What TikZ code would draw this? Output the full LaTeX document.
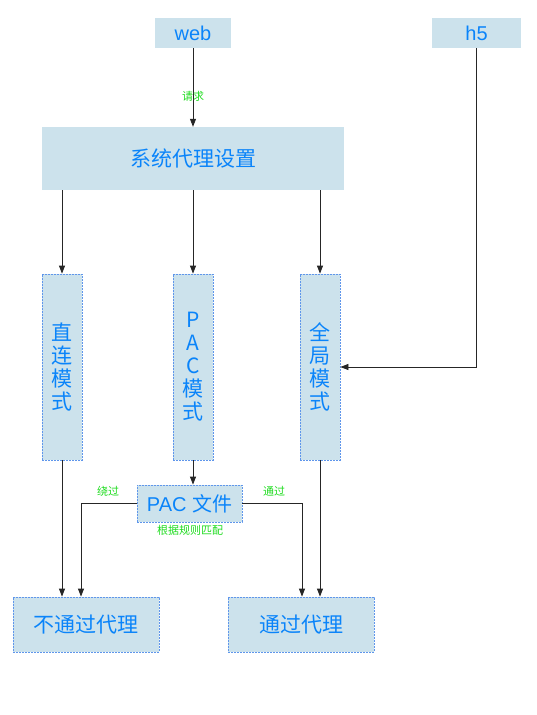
\documentclass[tikz,border=0pt]{standalone}
\usepackage{fontspec}
\setmainfont{Liberation Sans}
\newfontfamily\cjk{Noto Sans CJK SC}
\usetikzlibrary{arrows.meta}
\definecolor{boxfill}{RGB}{204,226,236}
\definecolor{txtblue}{RGB}{10,132,250}
\definecolor{dashblue}{RGB}{95,150,235}
\definecolor{lblgreen}{RGB}{30,220,30}
\tikzset{
  box/.style={fill=boxfill, text=txtblue, inner sep=0pt, anchor=center, align=center},
  dbox/.style={box, draw=dashblue, dash pattern=on 2pt off 1pt, line width=0.8pt},
  arr/.style={draw=black!85, line width=0.8pt, -{Triangle[width=6pt,length=8pt]}},
  lbl/.style={text=lblgreen, font=\cjk\fontsize{11}{13}\selectfont, inner sep=0pt},
  col/.style={dbox, minimum width=40pt, minimum height=186pt, font=\cjk\fontsize{21}{23}\selectfont},
}
\begin{document}
\begin{tikzpicture}[x=1pt,y=-1pt]
\useasboundingbox[fill=white] (0,0) rectangle (537,715);
\node[box, minimum width=76pt, minimum height=30pt, font=\fontsize{20}{24}\selectfont] (web) at (193,33) {web};
\node[box, minimum width=89pt, minimum height=30pt, font=\fontsize{20}{24}\selectfont] (h5) at (476.5,33) {h5};
\node[box, minimum width=302pt, minimum height=63pt, font=\cjk\fontsize{21}{24}\selectfont] (sys) at (193,158.5) {系统代理设置};
\node[col] (direct) at (62,367) {直\\连\\模\\式};
\node[col] (pac) at (193,367) {P\\A\\C\\模\\式};
\node[col] (global) at (320,367) {全\\局\\模\\式};
\node[dbox, minimum width=105pt, minimum height=37pt, font=\fontsize{20}{24}\selectfont] (pacfile) at (189.5,503.5) {PAC {\cjk 文件}};
\node[dbox, minimum width=146pt, minimum height=55pt, font=\cjk\fontsize{21}{24}\selectfont] (noproxy) at (86,624.5) {不通过代理};
\node[dbox, minimum width=146pt, minimum height=55pt, font=\cjk\fontsize{21}{24}\selectfont] (proxy) at (301,624.5) {通过代理};

\draw[arr] (web) -- node[lbl, pos=0.61] (lreq) {请求} (sys);
\draw[arr] (sys.south -| direct.north) -- (direct.north);
\draw[arr] (sys.south -| pac.north) -- (pac.north);
\draw[arr] (sys.south -| global.north) -- (global.north);
\draw[arr] (h5.south) |- (global.east);
\draw[arr] (pac.south) -- (pac.south |- pacfile.north);
\draw[arr] (direct.south) -- (direct.south |- noproxy.north);
\draw[arr] (pacfile.west) -| ([xshift=-5pt]noproxy.north);
\draw[arr] (pacfile.east) -| ([xshift=1pt]proxy.north);
\draw[arr] (global.south) -- (global.south |- proxy.north);

\node[lbl] (lbypass) at (108,491) {绕过};
\node[lbl] (lpass) at (274,491) {通过};
\node[lbl] (lmatch) at (190,530) {根据规则匹配};
\end{tikzpicture}
\end{document}
